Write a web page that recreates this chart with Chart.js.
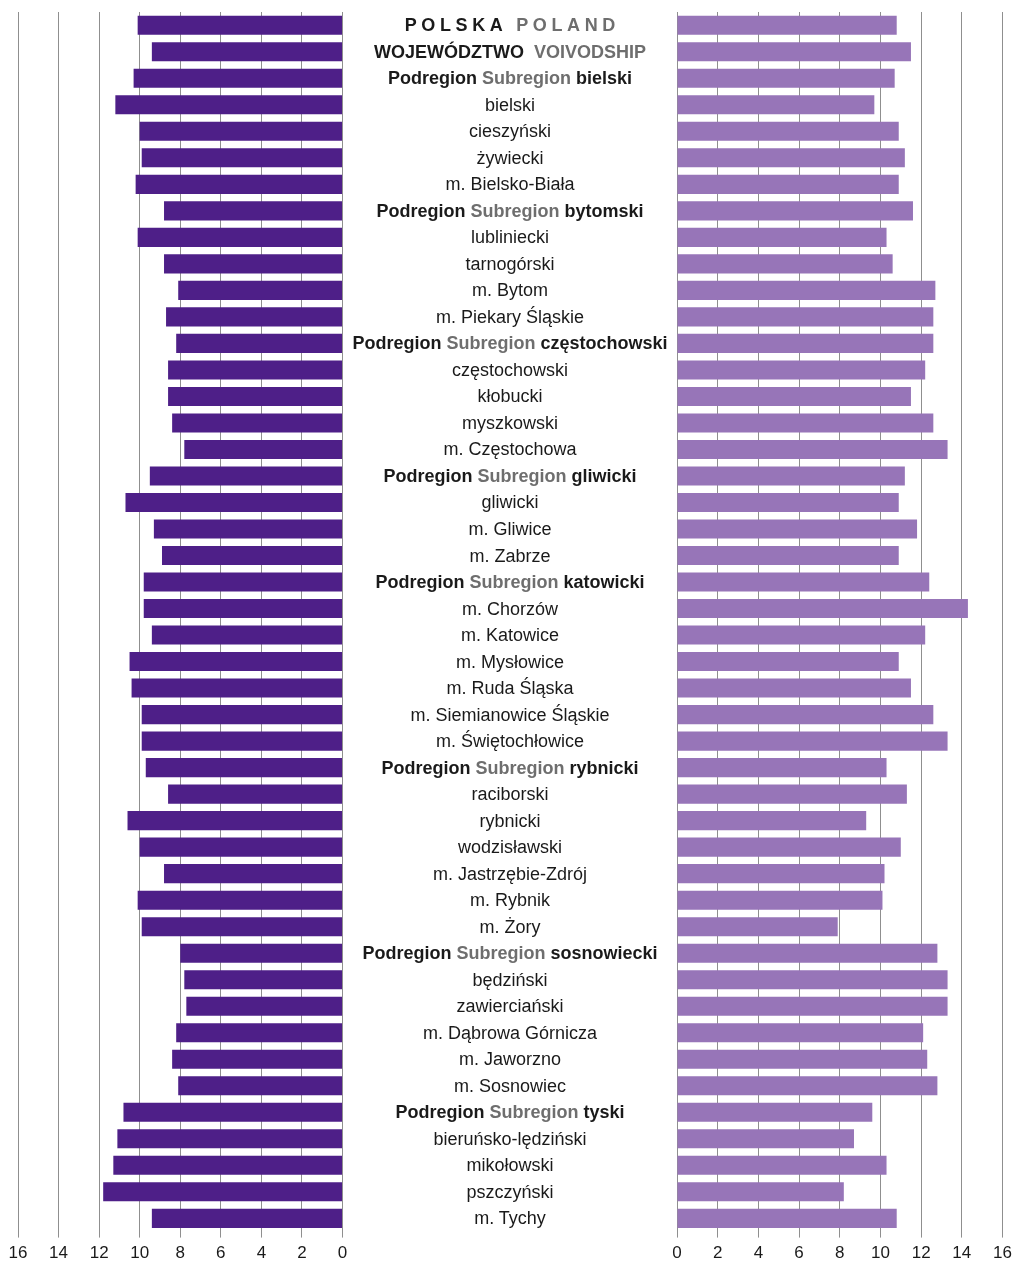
<!DOCTYPE html>
<html>
<head>
<meta charset="utf-8">
<script src="https://cdn.jsdelivr.net/npm/chart.js@4/dist/chart.umd.min.js"></script>
<style>
  html, body { margin: 0; padding: 0; background: #fff; }
  body { width: 1015px; height: 1263px; position: relative; overflow: hidden;
         font-family: "Liberation Sans", Arial, sans-serif; }
  .box { position: absolute; top: 0; height: 1263px; }
  #left-box { left: 0; width: 360px; }
  #right-box { left: 660px; width: 355px; }
  #labels { position: absolute; left: 0; top: 0; width: 1015px; height: 1263px; pointer-events: none; }
  .lbl { position: absolute; left: 510px; transform: translate(-50%, -50%);
         font-size: 18px; line-height: 1; white-space: nowrap; color: #1a1a1a; }
  .lbl.b { font-weight: bold; }
  .lbl .g { color: #6e6e6e; }
  .lbl.spaced { letter-spacing: 4.6px; padding-left: 4.6px; }
</style>
</head>
<body>
<div class="box" id="left-box"><canvas id="chart-left"></canvas></div>
<div class="box" id="right-box"><canvas id="chart-right"></canvas></div>
<div id="labels"></div>
<script>
  // row labels, top to bottom
  const regions = [
    'POLSKA POLAND',
    'WOJEWÓDZTWO VOIVODSHIP',
    'Podregion Subregion bielski',
    'bielski', 'cieszyński', 'żywiecki', 'm. Bielsko-Biała',
    'Podregion Subregion bytomski',
    'lubliniecki', 'tarnogórski', 'm. Bytom', 'm. Piekary Śląskie',
    'Podregion Subregion częstochowski',
    'częstochowski', 'kłobucki', 'myszkowski', 'm. Częstochowa',
    'Podregion Subregion gliwicki',
    'gliwicki', 'm. Gliwice', 'm. Zabrze',
    'Podregion Subregion katowicki',
    'm. Chorzów', 'm. Katowice', 'm. Mysłowice', 'm. Ruda Śląska',
    'm. Siemianowice Śląskie', 'm. Świętochłowice',
    'Podregion Subregion rybnicki',
    'raciborski', 'rybnicki', 'wodzisławski', 'm. Jastrzębie-Zdrój',
    'm. Rybnik', 'm. Żory',
    'Podregion Subregion sosnowiecki',
    'będziński', 'zawierciański', 'm. Dąbrowa Górnicza', 'm. Jaworzno',
    'm. Sosnowiec',
    'Podregion Subregion tyski',
    'bieruńsko-lędziński', 'mikołowski', 'pszczyński', 'm. Tychy',
  ];

  // left panel (dark bars)
  const leftValues = [
    10.1, 9.4, 10.3, 11.2, 10.0, 9.9, 10.2,
    8.8, 10.1, 8.8, 8.1, 8.7,
    8.2, 8.6, 8.6, 8.4, 7.8,
    9.5, 10.7, 9.3, 8.9,
    9.8, 9.8, 9.4, 10.5, 10.4, 9.9, 9.9,
    9.7, 8.6, 10.6, 10.0, 8.8, 10.1, 9.9,
    8.0, 7.8, 7.7, 8.2, 8.4, 8.1,
    10.8, 11.1, 11.3, 11.8, 9.4,
  ];

  // right panel (light bars)
  const rightValues = [
    10.8, 11.5, 10.7, 9.7, 10.9, 11.2, 10.9,
    11.6, 10.3, 10.6, 12.7, 12.6,
    12.6, 12.2, 11.5, 12.6, 13.3,
    11.2, 10.9, 11.8, 10.9,
    12.4, 14.3, 12.2, 10.9, 11.5, 12.6, 13.3,
    10.3, 11.3, 9.3, 11.0, 10.2, 10.1, 7.9,
    12.8, 13.3, 13.3, 12.1, 12.3, 12.8,
    9.6, 8.7, 10.3, 8.2, 10.8,
  ];

  const axisMax = 16;
  const axisStep = 2;

  Chart.defaults.font.family = '"Liberation Sans", Arial, sans-serif';
  Chart.defaults.color = '#1a1a1a';

  function panel(id, values, color, reversed, pad) {
    const ctx = document.getElementById(id).getContext('2d');
    return new Chart(ctx, {
      type: 'bar',
      data: {
        labels: regions,
        datasets: [{
          data: values,
          backgroundColor: color,
          borderWidth: 0,
          barPercentage: 0.72,
          categoryPercentage: 1,
        }],
      },
      options: {
        indexAxis: 'y',
        responsive: true, maintainAspectRatio: false,
        animation: false,
        layout: {padding: pad},
        plugins: {legend: {display: false}, tooltip: {enabled: false}},
        scales: {
          x: {
            min: 0, max: axisMax, reverse: reversed,
            border: {display: false},
            grid: {color: '#8f8f8f', lineWidth: 1, tickLength: 6, drawTicks: true},
            // tall line box pushes the numbers a little further below the grid
            ticks: {stepSize: axisStep, color: '#1a1a1a', font: {size: 17, lineHeight: 1.73}, padding: 1, maxRotation: 0},
          },
          y: {display: false},
        },
      },
    });
  }

  const left = panel('chart-left', leftValues, '#4e1f88', true, {left: 18, right: 17.5, top: 12, bottom: -6});
  panel('chart-right', rightValues, '#9775b8', false, {left: 17, right: 12.5, top: 12, bottom: -6});

  // centre column of labels, placed on the category scale rows
  const holder = document.getElementById('labels');
  const yScale = left.scales.y;
  regions.forEach((name, i) => {
    const div = document.createElement('div');
    div.className = 'lbl';
    const y = yScale.getPixelForValue(i);
    div.style.top = y + 'px';
    if (name.startsWith('Podregion ')) {
      const rest = name.slice('Podregion Subregion '.length);
      div.classList.add('b');
      div.innerHTML = `Podregion <span class="g">Subregion</span> ${rest}`;
    } else if (i < 2) {
      const [pl, en] = name.split(' ');
      div.classList.add('b');
      if (i === 0) div.classList.add('spaced');
      div.innerHTML = `${pl}${i === 1 ? '&nbsp; ' : ' '}<span class="g">${en}</span>`;
    } else {
      div.textContent = name;
    }
    holder.appendChild(div);
  });
</script>
</body>
</html>
